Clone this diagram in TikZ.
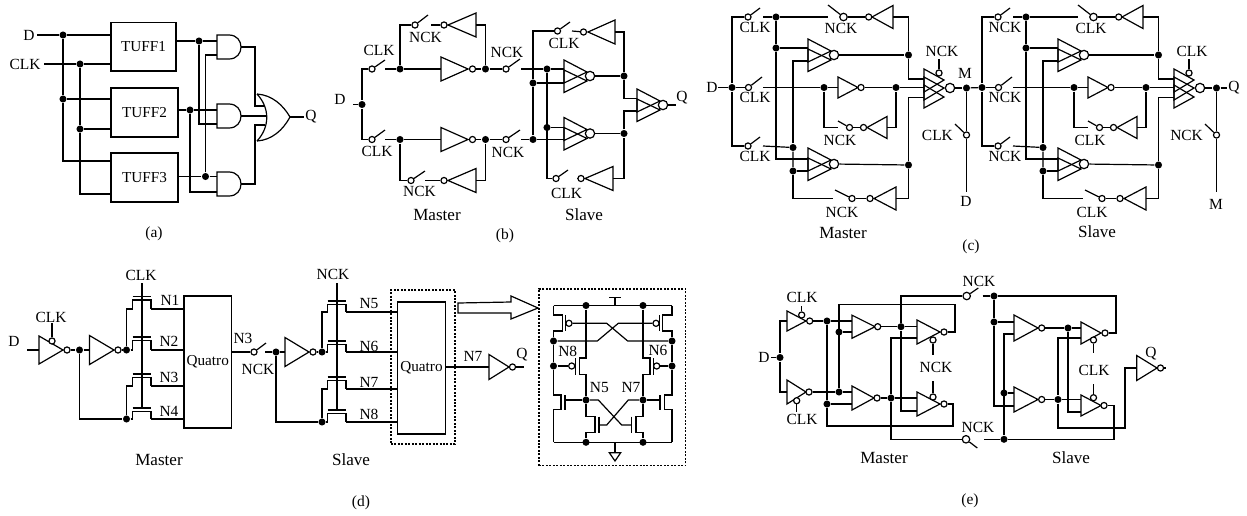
\documentclass[tikz,border=0pt]{standalone}
\usepackage{fontspec}
\setmainfont{Liberation Serif}
\tikzset{
dot/.style={circle,fill=black,inner sep=0pt,minimum size=5.3pt},
bub/.style={circle,draw,fill=white,inner sep=0pt,minimum size=4.6pt},
bubm/.style={circle,draw,fill=white,inner sep=0pt,minimum size=5.6pt},
bubl/.style={circle,draw,fill=white,inner sep=0pt,minimum size=7pt},
lb/.style={font=\fontsize{11.6}{13}\selectfont},
lbm/.style={font=\fontsize{12.8}{14}\selectfont},
ffbox/.style={draw,font=\fontsize{11.4}{13}\selectfont},
dashbox/.style={draw,dash pattern=on 1.5pt off 1.1pt}
}
\newcommand{\inv}[7][bub]{
\coordinate (#2-i) at (#3,#4);
\draw (#3,#4-#6) -- (#3,#4+#6) -- (#5,#4) -- cycle;
\node[#1] (#2-o) at (#7,#4) {};
}
\newcommand{\sw}[7][bub]{
\node[#1] (#2) at (#3,#4) {};
\draw (#2) -- (#5,#6);
\coordinate (#2-r) at (#7,#4);
}
\newcommand{\gtwo}[3]{
\coordinate (#1-w) at (#2,#3);
\draw (#2,#3-16) -- (#2,#3+7) -- (#2+23,#3-4) -- cycle;
\draw (#2,#3-6) -- (#2,#3+16.5) -- (#2+23,#3+5) -- cycle;
\node[bubl] (#1-o) at (#2+26,#3) {};
}
\newcommand{\gthree}[3]{
\coordinate (#1-w) at (#2,#3);
\draw (#2,#3-19) -- (#2,#3+4) -- (#2+20,#3-8) -- cycle;
\draw (#2,#3-11) -- (#2,#3+12) -- (#2+20,#3) -- cycle;
\draw (#2,#3-3) -- (#2,#3+20) -- (#2+20,#3+9) -- cycle;
\node[bubl] (#1-o) at (#2+26,#3) {};
\node[bub] (#1-c) at (#2+15,#3-15) {};
}
\newcommand{\andg}[3]{
\coordinate (#1-w) at (#2,#3);
\coordinate (#1-o) at (#2+24,#3);
\draw (#2,#3-12) -- (#2+12,#3-12) .. controls (#2+28,#3-12) and (#2+28,#3+12) .. (#2+12,#3+12) -- (#2,#3+12) -- cycle;
}
\newcommand{\tran}[4]{
\coordinate (#1-l) at (#2-9.5,#3);
\coordinate (#1-r) at (#2+9,#3);
\draw (#1-l) -- (#2-9.5,#3-#4+3.5) -- (#2+9,#3-#4+3.5) -- (#1-r);
\draw (#2-9.5,#3-#4) -- (#2+9,#3-#4);
}
\newcommand{\latchcell}[6]{
\begin{scope}[shift={(#2,0)}]
\node[dot] (#1j0) at (732,87.5) {};
\sw{#1s1}{748}{17}{760}{8}{763}
\sw{#1s2}{748.5}{87.5}{762}{77}{763}
\sw{#1s3}{748}{146}{760}{137}{763}
\node[dot] (#1j1) at (776,17) {};
\node[dot] (#1j2) at (776,48) {};
\node[dot] (#1j3) at (908.5,55) {};
\node[dot] (#1j4) at (824,87.5) {};
\node[dot] (#1j5) at (896,87.5) {};
\node[dot] (#1j6) at (793,147.5) {};
\node[dot] (#1j7) at (793,171) {};
\node[dot] (#1j8) at (908.5,165) {};
\node[dot] (#1j9) at (966.5,88) {};
\sw[bubm]{#1s4}{843.5}{17}{828}{5}{828}
\sw[bub]{#1s5}{852}{198.5}{835}{190}{833}
\sw[bub]{#1s6}{849.5}{127.5}{838}{121}{838}
\sw[bub]{#1s7}{966.5}{135}{955}{124}{966.5}
\inv{#1i4}{893}{17}{872}{11.5}{868.7}
\inv{#1i5}{896}{198.5}{874}{11.5}{870}
\inv{#1i6}{887}{127.5}{867}{11}{863.5}
\inv{#1i3}{838}{87.5}{858}{10.5}{861}
\gtwo{#1g1}{808}{55}
\gtwo{#1g2}{808}{164}
\gthree{#1g3}{924}{88}
\coordinate (#1g1b) at (808,61);
\coordinate (#1g2a) at (808,159);
\coordinate (#1g3a) at (924,79);
\coordinate (#1g3c) at (924,97.5);
\coordinate (#1up) at (939,59);
\coordinate (#1t1) at (966.5,192);
\draw (#1s1) -| (#1j0) |- (#1s3);
\draw (#1j0) -- (#1s2);
\draw (#1s1-r) -- (#1j1) -- (#1s4-r);
\draw (#1s4) -- (#1i4-o);
\draw (#1i4-i) -| (#1j3);
\draw (#1j1) -- (#1j2);
\draw (#1j2) |- (#1g2a);
\draw (#1j2) -- (#1j2 -| #1g1-w);
\draw (#1g1b) -| (#1j6);
\draw (#1s3-r) -- (#1j6) -- (#1j7);
\draw (#1j7) -- (#1j7 -| #1g2-w);
\draw (#1j7) |- (#1s5-r);
\draw (#1s5) -- (#1i5-o);
\draw (#1i5-i) -| (#1j8);
\draw (#1g1-o) -- (#1j3);
\draw (#1g2-o) -- (#1j8);
\draw (#1j3) |- (#1g3a);
\draw (#1j8) |- (#1g3c);
\draw (#1s2-r) -- (#1j4) -- (#1i3-i);
\draw (#1i3-o) -- (#1j5) -- (#1j5 -| #1g3-w);
\draw (#1j4) |- (#1s6-r);
\draw (#1s6) -- (#1i6-o);
\draw (#1i6-i) -| (#1j5);
\draw (#1g3-c) -- (#1up);
\draw (#1g3-o) -- (#1j9);
\draw (#1j9) -- (#1s7);
\draw (#1s7) -- (#1t1);
\node[lb] (#1t2) at (755,27) {#3};
\node[lb] (#1t3) at (755,97) {#3};
\node[lb] (#1t4) at (755,156) {#3};
\node[lb] (#1t5) at (841,28) {#4};
\node[lb] (#1t6) at (840,140) {#4};
\node[lb] (#1t7) at (842,212) {#4};
\node[lb] (#1t8) at (942,51) {#4};
\node[lb,anchor=east] (#1t9) at (953.5,135) {#3};
\node[lb] (#1t10) at (966,#6) {#5};
\end{scope}
}
\begin{document}
\begin{tikzpicture}[x=0.75pt,y=-0.75pt,line width=0.9pt]
\tikzstyle{every node}+=[inner sep=0pt]
\useasboundingbox (0,0) rectangle (1247,515);
\node[ffbox,minimum width=48.75pt,minimum height=36.4pt] (tf1) at (143.5,46.75) {TUFF1};
\node[ffbox,minimum width=50.25pt,minimum height=36.75pt] (tf2) at (144.5,112.5) {TUFF2};
\node[ffbox,minimum width=50.25pt,minimum height=36.75pt] (tf3) at (144.5,177.5) {TUFF3};
\node[lb] (atd) at (29,35) {D};
\node[lb] (atc) at (25,64) {CLK};
\node[lb] (atq) at (311,117) {Q};
\node[lb] (ata) at (154,234) {(a)};
\coordinate (a0) at (37,35);
\coordinate (a00) at (44,64);
\node[dot] (ad1) at (63,35) {};
\node[dot] (ad2) at (63,99) {};
\node[dot] (ac1) at (80,64) {};
\node[dot] (ac2) at (80,129) {};
\node[dot] (ao1) at (199,41) {};
\node[dot] (ao2) at (190,110) {};
\node[dot] (ao3) at (205.5,176.5) {};
\coordinate (ad3) at (111,161);
\coordinate (ac3) at (111,194);
\andg{an1}{217}{47}
\andg{an2}{217}{116}
\andg{an3}{217}{184}
\coordinate (an1b) at (217,55);
\coordinate (an2b) at (217,124);
\coordinate (an3b) at (217,192);
\coordinate (orj1) at (255,106);
\coordinate (ori1) at (265,106);
\coordinate (ori2) at (266,116);
\coordinate (orj3) at (255,125);
\coordinate (ori3) at (265,125);
\coordinate (ort) at (290,117);
\coordinate (orq) at (304,117);
\draw (257,94) .. controls (270,108) and (270,127) .. (257,141);
\draw (257,94) .. controls (272,95) and (283,105) .. (ort) .. controls (283,130) and (272,140) .. (257,141);
\draw (ort) -- (orq);
\draw (a0) -- (ad1) -- (ad1 -| tf1.west);
\draw (a00) -- (ac1) -- (ac1 -| tf1.west);
\draw (ad1) -- (ad2) |- (ad3);
\draw (ad2) -- (ad2 -| tf2.west);
\draw (ac1) -- (ac2) |- (ac3);
\draw (ac2) -- (ac2 -| tf2.west);
\draw (ao1 -| tf1.east) -- (ao1) -- (ao1 -| an1-w);
\draw (ao2 -| tf2.east) -- (ao2) -- (ao2 -| an2-w);
\draw (ao3 -| tf3.east) -- (ao3) -- (ao3 -| an3-w);
\draw (ao1) |- (an2b);
\draw (ao2) |- (an3b);
\draw (an1b) -| (ao3);
\draw (an1-o) -| (orj1) -- (ori1);
\draw (an2-o) -- (ori2);
\draw (an3-o) -| (orj3) -- (ori3);
\node[lb] (btd) at (340,99) {D};
\node[lb] (btc1) at (379,50) {CLK};
\node[lb] (btc2) at (377,151) {CLK};
\node[lb] (btn1) at (425.5,37) {NCK};
\node[lb] (btn2) at (507,52) {NCK};
\node[lb] (btn3) at (508,152) {NCK};
\node[lb] (btn4) at (419.5,191) {NCK};
\node[lb] (btc3) at (564,43) {CLK};
\node[lb] (btc4) at (566.5,193) {CLK};
\node[lb] (btq) at (682,98) {Q};
\node[lbm] (btm) at (437,215) {Master};
\node[lbm] (bts) at (584,215) {Slave};
\node[lb] (btb) at (505,236) {(b)};
\coordinate (bd0) at (353,104.5);
\node[dot] (bj) at (362,104.5) {};
\sw{bs1}{372}{69}{385}{60}{385}
\sw{bs2}{506}{69}{520}{59}{521}
\sw{bs3}{415}{25}{428}{15}{431}
\sw{bs4}{372}{139.5}{385}{130}{385}
\sw{bs5}{506}{139.5}{520}{130}{521}
\sw{bs6}{411}{180.5}{425}{171}{425}
\sw{bs7}{557.5}{31}{570}{22}{572}
\sw{bs8}{556}{178.5}{568}{170}{578}
\inv{bi1}{441}{69}{468}{12}{472.5}
\inv{bi3}{476}{25}{448}{12}{444}
\inv{bi4}{441}{139.5}{468}{12}{472.5}
\inv{bi6}{476}{180.5}{448}{12}{444}
\inv{bi7}{615}{32}{588}{12}{583.5}
\inv{bi8}{613}{178.5}{585}{12}{581}
\node[dot] (b1) at (400,69) {};
\node[dot] (b2) at (485.5,69) {};
\node[dot] (b3) at (547,69) {};
\node[dot] (b4) at (400,139.5) {};
\node[dot] (b5) at (485.5,139.5) {};
\node[dot] (b6) at (533,139.5) {};
\node[dot] (b7) at (533,83) {};
\node[dot] (b8) at (547,127.5) {};
\node[dot] (b9) at (624,76) {};
\node[dot] (b10) at (624,133.5) {};
\gtwo{bg1}{564}{76}
\gtwo{bg2}{564}{133.5}
\gtwo{bg3}{637}{105}
\coordinate (bg3a) at (637,98.5);
\coordinate (bg3b) at (637,111);
\coordinate (bq) at (676,105);
\draw (bd0) -- (bj);
\draw (bs1) -| (bj) |- (bs4);
\draw (bs1-r) -- (b1) -- (bi1-i);
\draw (bi1-o) -- (b2) -- (bs2);
\draw (b1) |- (bs3);
\draw (bs3-r) -- (bi3-o);
\draw (bi3-i) -| (b2);
\draw (bs4-r) -- (b4) -- (bi4-i);
\draw (bi4-o) -- (b5) -- (bs5);
\draw (b4) |- (bs6);
\draw (bs6-r) -- (bi6-o);
\draw (bi6-i) -| (b5);
\draw (bs2-r) -- (b3) -- (b3 -| bg1-w);
\draw (bs5-r) -- (b6) -- (b6 -| bg2-w);
\draw (b7) -- (b7 -| bg1-w);
\draw (b8) -- (b8 -| bg2-w);
\draw (b6) -- (b7) |- (bs7);
\draw (b3) |- (bs8);
\draw (bs7-r) -- (bi7-o);
\draw (bi7-i) -| (b9);
\draw (bs8-r) -- (bi8-o);
\draw (bi8-i) -| (b10);
\draw (bg1-o) -- (b9);
\draw (bg2-o) -- (b10);
\draw (b9) |- (bg3a);
\draw (b10) |- (bg3b);
\draw (bg3-o) -- (bq);
\latchcell{m}{0}{CLK}{NCK}{D}{201}
\latchcell{s}{250}{NCK}{CLK}{M}{204}
\node[lb] (ctd) at (712,87) {D};
\node[lb] (ctm) at (965,73) {M};
\node[lb] (ctq) at (1234,88) {Q};
\node[lbm] (cts1) at (843,233) {Master};
\node[lbm] (cts2) at (1097,232) {Slave};
\node[lb] (ctc) at (971,247) {(c)};
\coordinate (c0) at (718,87.5);
\coordinate (c1) at (1227,88);
\draw (c0) -- (mj0);
\draw (mj9) -- (sj0);
\draw (sj9) -- (c1);
\node[lb] (dtd) at (14,341) {D};
\node[lb] (dtc1) at (51,317) {CLK};
\node[lb] (dtc2) at (141,275) {CLK};
\node[lb] (dtn) at (333,274) {NCK};
\node[lb] (dt1) at (170,300) {N1};
\node[lb] (dt2) at (169,341) {N2};
\node[lb] (dt3) at (169,377) {N3};
\node[lb] (dt4) at (169,411) {N4};
\node[lb] (dt5) at (243,338) {N3};
\node[lb] (dt6) at (258,369) {NCK};
\node[lb] (dt7) at (369,304) {N5};
\node[lb] (dt8) at (369,346) {N6};
\node[lb] (dt9) at (369,382) {N7};
\node[lb] (dt10) at (369,414) {N8};
\node[lb] (dt11) at (473,356) {N7};
\node[lb] (dt12) at (522,355) {Q};
\node[lbm] (dtm) at (159,460) {Master};
\node[lbm] (dts) at (351,460) {Slave};
\node[lb] (dtl) at (361,503) {(d)};
\node[dashbox,minimum width=48pt,minimum height=115.5pt] (dbox) at (423,367) {};
\node[ffbox,minimum width=35.6pt,minimum height=99pt] (dq1) at (207.75,362) {Quatro};
\node[ffbox,minimum width=36pt,minimum height=99pt] (dq2) at (421.5,368) {Quatro};
\inv{di1}{39}{350}{63}{14}{67}
\node[bub] (dc1) at (52,341) {};
\coordinate (dc2) at (52,323);
\coordinate (d0) at (27,350);
\inv{di2}{89.5}{350}{114}{14.5}{118}
\node[dot] (d1) at (79.5,350) {};
\node[dot] (d3) at (126.5,350) {};
\node[dot] (d4) at (126.5,419) {};
\tran{t1}{142}{309}{12.5}
\tran{t2}{142}{350}{13}
\tran{t3}{142}{386}{12}
\tran{t4}{142}{419}{11}
\coordinate (dg0) at (142,283);
\coordinate (dg1) at (142,408);
\sw{dsw}{254}{352}{266}{343}{265}
\node[dot] (d5) at (276,352) {};
\node[dot] (d6) at (322,352) {};
\node[dot] (d7) at (322,422) {};
\inv{di3}{285}{352}{309}{14.5}{313}
\tran{t5}{337}{312}{11}
\tran{t6}{337}{352}{11}
\tran{t7}{337}{389}{12}
\tran{t8}{337}{422}{12}
\coordinate (dg2) at (337,283);
\coordinate (dg3) at (337,410);
\inv{di4}{489}{367}{509}{12.5}{512.5}
\coordinate (dq0) at (524,367);
\draw (d0) -- (di1-i);
\draw (dc1) -- (dc2);
\draw (di1-o) -- (d1) -- (di2-i);
\draw (di2-o) -- (d3);
\draw (d1) |- (d4);
\draw (t1-l) -| (d3);
\draw (d3) -- (t2-l);
\draw (t3-l) -| (d4);
\draw (d4) -- (t4-l);
\draw (dg0) -- (dg1);
\draw (t1-r) -- (t1-r -| dq1.west);
\draw (t2-r) -- (t2-r -| dq1.west);
\draw (t3-r) -- (t3-r -| dq1.west);
\draw (t4-r) -- (t4-r -| dq1.west);
\draw (dsw -| dq1.east) -- (dsw);
\draw (dsw-r) -- (d5) -- (di3-i);
\draw (di3-o) -- (d6);
\draw (d5) |- (d7);
\draw (t5-l) -| (d6);
\draw (d6) -- (t6-l);
\draw (t7-l) -| (d7);
\draw (d7) -- (t8-l);
\draw (dg2) -- (dg3);
\draw (t5-r) -- (t5-r -| dq2.west);
\draw (t6-r) -- (t6-r -| dq2.west);
\draw (t7-r) -- (t7-r -| dq2.west);
\draw (t8-r) -- (t8-r -| dq2.west);
\draw (di4-i -| dq2.east) -- (di4-i);
\draw (di4-o) -- (dq0);
\draw (458,303) -- (511,302) -- (511,296) -- (538,308) -- (511,319) -- (511,313) -- (458,313) -- cycle;
\node[dashbox,minimum width=110pt,minimum height=132.5pt] (dbig) at (612.35,377.35) {};
\node[lb] (qt1) at (567.7,351) {N8};
\node[lb] (qt2) at (658,350) {N6};
\node[lb] (qt3) at (599.3,387.7) {N5};
\node[lb] (qt4) at (631,387.7) {N7};
\node[dot] (q1) at (586,305.5) {};
\node[dot] (q2) at (643,305.5) {};
\node[dot] (q3) at (553.5,341) {};
\node[dot] (q4) at (672,341) {};
\node[dot] (q5) at (553.5,366) {};
\node[dot] (q6) at (672,366) {};
\node[dot] (q7) at (586,400) {};
\node[dot] (q8) at (643,400) {};
\node[dot] (q9) at (586,442.3) {};
\node[dot] (q10) at (643,442.3) {};
\node[bub] (qb1) at (569,323.3) {};
\node[bub] (qb2) at (656,323.3) {};
\node[bub] (qb3) at (571.7,366) {};
\node[bub] (qb4) at (656.7,366) {};
\coordinate (qtl) at (553.5,305.5);
\coordinate (qtr) at (672,305.5);
\coordinate (qbl) at (553.5,442.3);
\coordinate (qbr) at (672,442.3);
\draw (qtl) -- (qtr);
\draw (qbl) -- (qbr);
\draw (615,305.5) -- (615,297.5);
\draw (609,297.5) -- (621,297.5);
\draw (615,442.3) -- (615,452.7);
\draw (609.3,452.7) -- (620.7,452.7) -- (615,461) -- cycle;
\draw (qtl) -- (553.5,315) -- (562.3,315) -- (562.3,331) -- (553.5,331) -- (q3);
\draw (565.7,315) -- (565.7,331);
\draw (qb1) -- (606.7,323.3) -- (627.7,341) -- (q4);
\draw (qtr) -- (672,315) -- (662.7,315) -- (662.7,331) -- (672,331) -- (q4);
\draw (659.3,315) -- (659.3,331);
\draw (qb2) -- (618.3,323.3) -- (597.3,341) -- (q3);
\draw (q3) -- (q5);
\draw (q4) -- (q6);
\draw (q1) -- (586,358) -- (579.3,358) -- (579.3,374.5) -- (586,374.5) -- (q7);
\draw (575.7,358) -- (575.7,374.5);
\draw (q5) -- (qb3);
\draw (q2) -- (643,358) -- (650,358) -- (650,374.5) -- (643,374.5) -- (q8);
\draw (653.3,358) -- (653.3,374.5);
\draw (q6) -- (qb4);
\draw (q5) -- (553.5,395) -- (561,395) -- (561,409.5) -- (553.5,409.5) -- (qbl);
\draw (565,395) -- (565,409.5);
\draw (565,400) -- (q7);
\draw (q6) -- (672,395) -- (664.5,395) -- (664.5,409.5) -- (672,409.5) -- (qbr);
\draw (660,395) -- (660,409.5);
\draw (660,400) -- (q8);
\draw (q7) -- (586,416.7) -- (595,416.7) -- (595,432.7) -- (586,432.7) -- (q9);
\draw (599,416.7) -- (599,432.7);
\draw (q8) -- (643,416.7) -- (636,416.7) -- (636,432.7) -- (643,432.7) -- (q10);
\draw (631.7,416.7) -- (631.7,432.7);
\draw (q7) -- (598.3,400) -- (621.7,425) -- (631.7,425);
\draw (q8) -- (628.3,400) -- (606.7,425) -- (599,425);
\node[lb] (etd) at (764,357) {D};
\node[lb] (etc1) at (802,297) {CLK};
\node[lb] (etc2) at (802,419.5) {CLK};
\node[lb] (etn1) at (936,367) {NCK};
\node[lb] (etn2) at (979,281) {NCK};
\node[lb] (etn3) at (978,427) {NCK};
\node[lb] (etc3) at (1094,370) {CLK};
\node[lb] (etq) at (1151,354) {Q};
\node[lbm] (etm) at (884,458) {Master};
\node[lbm] (ets) at (1071,458) {Slave};
\node[lb] (etl) at (970,501) {(e)};
\coordinate (e0) at (771,357.5);
\node[dot] (ej) at (780,357.5) {};
\inv{ei1}{787}{321}{806}{10}{809.7}
\inv{ei2}{787}{392}{806}{12}{809}
\inv{ei3}{852}{326.7}{875}{11.5}{877.7}
\inv{ei4}{852}{398}{874}{12}{877}
\inv{ei5}{917}{332}{940}{12}{944}
\inv{ei6}{917}{404}{940}{12}{944}
\inv{ei7}{1014}{328}{1038}{13}{1041.7}
\inv{ei8}{1014}{399.5}{1038}{12.5}{1041.7}
\inv{ei9}{1081}{333}{1101}{11}{1105}
\inv{ei10}{1081}{405.5}{1101}{10.5}{1104}
\inv{ei11}{1136.7}{368}{1157}{12.5}{1160.5}
\node[bub] (ebc1) at (801.7,315) {};
\node[bub] (ebc2) at (796.7,400.7) {};
\node[bub] (ebc3) at (933,340) {};
\node[bub] (ebc4) at (933,397) {};
\node[bub] (ebc5) at (1093.5,340) {};
\node[bub] (ebc6) at (1093.5,397.7) {};
\coordinate (ebu1) at (801.7,306);
\coordinate (ebu2) at (796.7,412);
\coordinate (ebu3) at (933,355);
\coordinate (ebu4) at (933,381);
\coordinate (ebu5) at (1093.5,353);
\coordinate (ebu6) at (1093.5,384);
\node[dot] (e1) at (827,321) {};
\node[dot] (e2) at (839,332) {};
\node[dot] (e3) at (839,392) {};
\node[dot] (e4) at (827,404) {};
\node[dot] (e7) at (901,326.7) {};
\node[dot] (e8) at (891,398) {};
\node[dot] (e9) at (994,296) {};
\node[dot] (e10) at (1004,439.3) {};
\node[dot] (e11) at (994,322) {};
\node[dot] (e12) at (1004,393) {};
\node[dot] (e13) at (1068,328) {};
\node[dot] (e14) at (1058,399.5) {};
\sw[bubm]{esw1}{966.7}{296}{978.3}{288}{982.7}
\sw[bubm]{esw2}{966}{439.3}{977.3}{448}{984}
\coordinate (e5) at (953,426);
\coordinate (e6) at (955,304.7);
\coordinate (ee1) at (1116,296);
\coordinate (ee2) at (1114,439.3);
\coordinate (ee3) at (1125,428);
\coordinate (ei5b) at (917,338);
\coordinate (ei6b) at (917,411);
\coordinate (ei7b) at (1014,334);
\coordinate (ei8b) at (1014,406);
\coordinate (ei9b) at (1081,338);
\coordinate (ei10b) at (1081,412);
\coordinate (eq) at (1166,368);
\draw (e0) -- (ej);
\draw (ei1-i) -| (ej) |- (ei2-i);
\draw (ebc1) -- (ebu1);
\draw (ebc2) -- (ebu2);
\draw (ebc3) -- (ebu3);
\draw (ebc4) -- (ebu4);
\draw (ebc5) -- (ebu5);
\draw (ebc6) -- (ebu6);
\draw (ei1-o) -- (e1) -- (e1 -| ei3-i);
\draw (ei2-o) -- (e3) -- (e3 -| ei4-i);
\draw (e2) -- (e2 -| ei3-i);
\draw (e4) -- (e4 -| ei4-i);
\draw (e1) -- (e4);
\draw (ei6-o) -| (e5) -| (e4);
\draw (ei5-o) -| (e6) -| (e3);
\draw (ei3-o) -- (e7) -- (e7 -| ei5-i);
\draw (ei4-o) -- (e8) -- (e8 -| ei6-i);
\draw (ei5b) -| (e8);
\draw (e8) |- (esw2);
\draw (ei6b) -| (e7);
\draw (e7) |- (esw1);
\draw (esw1-r) -- (e9) -- (ee1) |- (ei9-o);
\draw (esw2-r) -- (e10) -- (ee2) |- (ei10-o);
\draw (e9) -- (e11) |- (ei8b);
\draw (e11) -- (e11 -| ei7-i);
\draw (ei7b) -| (e10);
\draw (e12) -- (e12 -| ei8-i);
\draw (ei7-o) -- (e13) -- (e13 -| ei9-i);
\draw (ei8-o) -- (e14) -- (e14 -| ei10-i);
\draw (ei9b) -| (e14);
\draw (e14) |- (ee3) |- (ei11-i);
\draw (ei11-o) -- (eq);
\draw (ei10b) -| (e13);
\end{tikzpicture}
\end{document}
